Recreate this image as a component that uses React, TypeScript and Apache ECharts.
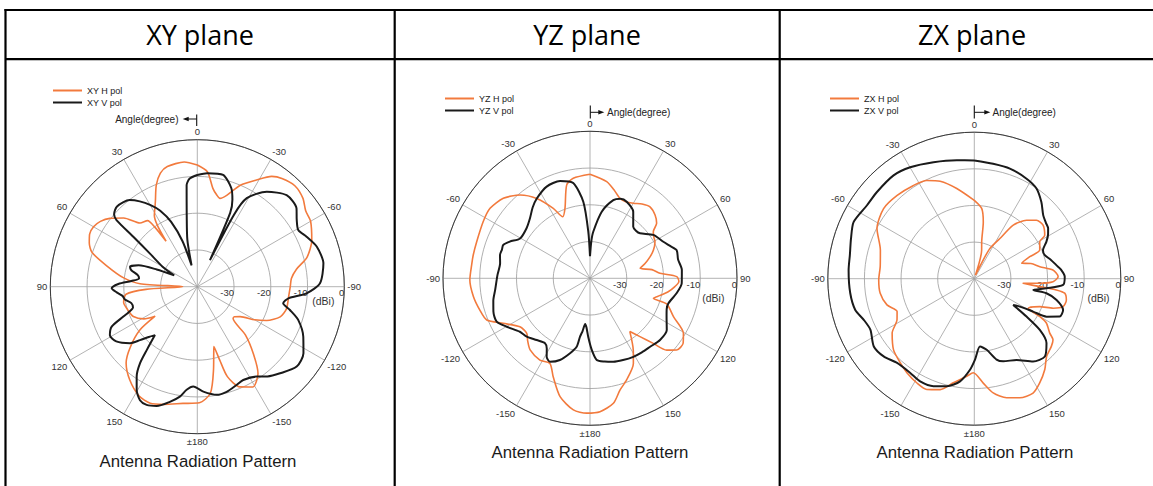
import React, { useEffect, useRef } from "react";
import * as echarts from "echarts";

// ---------------- DATA (angle in degrees as printed on each chart, gain in dBi) ----------------
// XY plane: angle counted counter-clockwise from the top (0 at top, 90 at left)
const xyHAngle = [0,6,14,18,22,26,28.5,31,33,34.5,35.5,37,42,47,52,56,60,64,68,72,77,83,87,90,93,96,102,108,115,121,125,127,132,137,144,152,158,164,173,181,187,191,194,195.5,197,198.5,203,209,215,220,225,228.5,231,235,240,244,250,256,264,270,275,280,285,292,300,305,310,316,322,326,331,337,342,345.6,348,351,355,360];
const xyHdB = [-6.9,-5.9,-6.3,-7.5,-10.2,-14,-15.8,-17.3,-20,-25,-20,-17.5,-16.7,-12.6,-9.8,-8.2,-7.4,-7.4,-8.3,-9.9,-14.7,-19.7,-24.4,-36,-26,-20.5,-19.5,-20,-20.8,-23,-26,-20.5,-15.5,-11.6,-8.7,-6.3,-5.8,-6.7,-8,-8.4,-10.8,-16.9,-21.5,-23.1,-19.1,-14.2,-10.4,-8.8,-11.2,-16.3,-21.5,-27,-27,-25.8,-22,-19,-16,-15,-15,-14.7,-14.3,-12.6,-9.1,-6.4,-4.4,-4,-2.5,-1.8,-2.6,-3.8,-6.8,-10,-13.8,-15.2,-14.5,-12.9,-8.6,-6.9];
const xyVAngle = [0,4,6,8.4,12,15,18,22,26,30,34,38,45,49,50.5,52,55,60,64,67,70,73.5,76,79,82,85,88,91,94,97,100,104,108,110.5,112,115,119,124,130,133,136,138.8,141.4,143.2,146,149.6,153.2,156.8,161.2,166.6,171,174.1,177.7,183.3,190.2,195.6,201.8,206.2,213.4,218,223.7,231.2,237.9,244.7,251.8,255.9,259.1,262.7,266.5,271.6,280.5,288.5,294.6,299.3,303.9,308.3,315.7,323.8,330.8,333,334.5,336,338,341,347,355,360];
const xyVdB = [-9.6,-10.5,-12.2,-20.3,-27,-34,-27,-21,-17,-14.3,-12,-10.1,-9.1,-10,-11.5,-17.9,-24.2,-29,-33,-28,-23,-20.9,-21.5,-23.5,-24,-22,-18.5,-16.7,-18,-19.5,-20,-21.5,-21.6,-20,-18.3,-14.3,-12.8,-13.4,-16.1,-18.7,-21,-22.5,-18,-14,-10.5,-7.4,-5.4,-5,-5.7,-7.8,-9.7,-11.8,-12.8,-11.4,-10.1,-10.3,-11.2,-11.7,-10.7,-9,-7.4,-5.3,-5.9,-8.1,-11.1,-14,-16.2,-15,-10.2,-6.6,-5.1,-5.7,-7.3,-8.5,-7.4,-5.6,-5.2,-8,-12.4,-18,-32,-18,-14.5,-11.6,-8.8,-9,-9.6];

// YZ plane: angle counted clockwise from the top (0 at top, 90 at right)
const yzHAngle = [0,9.8,15,20.6,25,30,35,40,45.8,50.5,53.6,57,60.6,66,70.2,75,78.7,82,85.9,88.9,92,95.6,100,104,107.5,108.5,114.7,120.5,124.9,129.6,133.1,135.8,139.4,143.2,148.9,153,160.2,165,169.4,175.7,181.4,187.2,194.2,200.5,205.2,211.5,219.9,225,229,235.3,242.6,248,253.9,261,269.2,277.2,281.3,287.9,298,305,312.7,320,326.3,332.3,336.1,340.3,346,350.5,360];
const yzHdB = [-11.7,-13.3,-15,-16.8,-17,-16.4,-15.3,-14.6,-15.3,-16.5,-18.6,-19.3,-19.7,-21.1,-22.6,-24.5,-26.1,-23,-20.9,-16.4,-15.8,-16.8,-18.5,-20.5,-21.9,-18,-15,-10.5,-9.1,-9.4,-11.4,-15.3,-19.1,-21.9,-17.2,-14,-10.6,-8.5,-5.4,-3.6,-3.3,-3.9,-6.8,-11.4,-14.4,-13.9,-14.6,-16,-17.2,-16.8,-13.4,-9.7,-8.8,-7.9,-7.3,-7.6,-7.6,-7.6,-7.1,-6.8,-7.9,-10.4,-13.9,-18.5,-21.7,-19.8,-13.8,-12.4,-11.7];
const yzVAngle = [0,2,4,10,16.6,21,25.6,33,40,44,48,55.6,63.5,68,72,78,84.8,93.1,99.8,107.7,112,116.6,124,131.4,138.7,145,151.1,158,164.4,170,175.3,178.6,181.7,184,186,188,189.7,191,194.9,200.2,205.6,208.9,211.5,214.7,220.8,227.3,232.7,239.8,245.1,251,257,263,272,279.5,284.5,288,291,294.6,299.7,308.3,315,321,326.3,334.7,342.9,350,355,357.9,360];
const yzVdB = [-34,-30,-27.3,-21.6,-17.8,-16.8,-16.9,-18.4,-21.7,-22,-21.7,-19.1,-17.7,-16.5,-15.2,-15.5,-14.9,-15,-16.1,-17.6,-17.5,-16.7,-14.8,-14.6,-15.2,-15.4,-15.6,-16,-16.4,-17,-17.7,-20.5,-24,-26.5,-27.5,-25.5,-23.9,-21,-18.9,-16.3,-14.8,-15.6,-17.5,-18.5,-17.8,-16.6,-16,-13.8,-12,-12.2,-13,-14,-14.8,-15.2,-14.7,-14.8,-14.7,-16,-18.1,-18,-16.9,-15.2,-13.9,-12.4,-12.3,-13.7,-19.1,-27.3,-34];

// ZX plane: angle counted clockwise from the top (0 at top, 90 at right)
const zxHAngle = [0,6,9,11.3,14.5,18,22,27,32.5,36,41.8,46.8,52.1,58.3,60.6,66.4,68.4,72,75,79.6,83.7,88.6,92.2,94,95.4,96.9,97.8,99.1,103,107.5,110.5,113.1,118.7,120,121.6,125.8,127.8,131.3,137.1,142.2,147.9,152.8,159.1,164.8,170.6,175.1,180.6,184.4,191.4,197.1,203.2,208.8,215.5,221.3,228.6,236.5,242,247,253.3,261.2,269.2,277.3,286.9,297.3,307.7,317.2,326.9,334.2,340.7,349,360];
const zxHdB = [-18.6,-20.7,-24.3,-29.7,-32,-39,-38,-31,-27,-21.9,-18.6,-16.7,-16.2,-17.4,-19.5,-20.5,-23.7,-26.4,-24,-21.8,-18.4,-17.1,-18.5,-22.1,-26.6,-22,-17.4,-15,-14.2,-14.6,-17,-20.6,-23.2,-19.3,-16.9,-14.6,-12.8,-12,-11,-8.6,-6.4,-4.9,-5.2,-6.3,-8.4,-11.4,-14.3,-13.3,-11,-8.3,-7.1,-7.5,-8.4,-9.4,-10.6,-13.1,-16.1,-17.1,-15.1,-14,-13.9,-14.1,-13.2,-10.1,-8.7,-9,-9.6,-10.2,-11.8,-14.9,-18.6];
const zxVAngle = [0,9.3,17.9,27.6,34.6,41.2,47.3,52,55.7,59,62.9,67.4,71.5,76,80.6,84,88.7,94,97.6,100.8,101.4,104.5,109.4,113.9,117.7,119.2,121.5,124,125.9,128,131.7,137.8,144.6,152.5,160.7,164.6,170.1,175.2,179.5,182.7,187.9,194.3,200.8,207.8,214.2,222.5,229.4,236,243.8,249.6,255.3,263.3,273.9,281,288,295.2,304.4,311.7,322,330.1,340.7,351.6,360];
const zxVdB = [-7.7,-8.2,-8.4,-9.2,-10.1,-12.2,-14.4,-15.2,-15.6,-16.5,-17.9,-19.7,-19.7,-18.5,-17.3,-16.2,-15.3,-15.7,-20.1,-23.6,-19.9,-16.8,-14.3,-14.5,-17.7,-21.6,-25.4,-27.2,-22.4,-17.3,-13.6,-11.3,-12.3,-15,-16.1,-17.1,-20.3,-21.4,-17.9,-15.1,-11.7,-9.7,-8.6,-8.3,-8.9,-8.8,-7.4,-6.9,-8.4,-7.8,-6.4,-5.9,-5.6,-5.4,-4.6,-3.6,-4.5,-4.4,-4.2,-4.9,-6.3,-7.3,-7.7];

const headers = ["XY plane", "YZ plane", "ZX plane"];
const seriesNames = [["XY H pol", "XY V pol"], ["YZ H pol", "YZ V pol"], ["ZX H pol", "ZX V pol"]];
const radialTicks = [-40, -30, -20, -10, 0];
const chartTitle = "Antenna Radiation Pattern";
const angleCaption = "Angle(degree)";
const unitCaption = "(dBi)";

// ---------------- STYLE / LAYOUT ----------------
const ORANGE = "#f27a3d";
const BLACK = "#1a1a1a";
const FONT = "'Liberation Sans', Arial, sans-serif";

const planes = [
  { center: [197.3, 286.7], radius: 147, clockwise: false, offset: 90, legend: [53, 85.5], dbi: [323.3, 301], title: [198, 461], header: 200,
    H: [xyHAngle, xyHdB], V: [xyVAngle, xyVdB] },
  { center: [590, 278.3], radius: 147, clockwise: true, offset: 270, legend: [445, 93.5], dbi: [713.3, 297.7], title: [590, 452.3], header: 587,
    H: [yzHAngle, yzHdB], V: [yzVAngle, yzVdB] },
  { center: [974.3, 278.7], radius: 146.5, clockwise: true, offset: 270, legend: [830, 93.5], dbi: [1098.5, 297.7], title: [975, 452.3], header: 972,
    H: [zxHAngle, zxHdB], V: [zxVAngle, zxVdB] },
];

function toPolar(angles: number[], dbs: number[], offset: number) {
  return angles.map((a, i) => [dbs[i], (a + offset) % 360]);
}

function angleLabel(offset: number) {
  return (v: number) => {
    let t = (((v - offset) % 360) + 360) % 360;
    if (t > 180) t -= 360;
    if (Math.abs(t) === 180) return "±180";
    return String(Math.round(t));
  };
}

function buildOption() {
  const polar: any[] = [];
  const angleAxis: any[] = [];
  const radiusAxis: any[] = [];
  const series: any[] = [];
  const legend: any[] = [];
  const graphic: any[] = [];

  planes.forEach((p, i) => {
    polar.push({ center: p.center, radius: p.radius });
    angleAxis.push({
      polarIndex: i, type: "value", min: 0, max: 360, interval: 30, startAngle: 0, clockwise: p.clockwise,
      axisLine: { show: true, lineStyle: { color: "#3a3a3a", width: 1 } },
      axisTick: { show: false },
      splitLine: { show: true, lineStyle: { color: "#a0a0a0", width: 0.8 } },
      axisLabel: { margin: 3, fontSize: 9.5, color: "#333", fontFamily: FONT, formatter: angleLabel(p.offset) },
      silent: true,
    });
    radiusAxis.push({
      polarIndex: i, type: "value", min: radialTicks[0], max: radialTicks[radialTicks.length - 1], interval: 10,
      axisLine: { show: false }, axisTick: { show: false },
      splitLine: { show: true, lineStyle: { color: "#9a9a9a", width: 0.8 } },
      axisLabel: {
        formatter: (v: number) => (v === radialTicks[0] ? "" : String(v)),
        align: "right", verticalAlign: "top", margin: -1, fontSize: 9.5, color: "#333", fontFamily: FONT,
      },
      silent: true,
    });
    const [hName, vName] = seriesNames[i];
    series.push({
      type: "line", name: hName, coordinateSystem: "polar", polarIndex: i,
      data: toPolar(p.H[0], p.H[1], p.offset), symbol: "none", smooth: 0.25, clip: false, silent: true,
      lineStyle: { color: ORANGE, width: 1.6 }, itemStyle: { color: ORANGE },
    });
    series.push({
      type: "line", name: vName, coordinateSystem: "polar", polarIndex: i,
      data: toPolar(p.V[0], p.V[1], p.offset), symbol: "none", smooth: 0.25, clip: false, silent: true,
      lineStyle: { color: BLACK, width: 2 }, itemStyle: { color: BLACK },
    });
    legend.push({
      data: [hName, vName], left: p.legend[0], top: p.legend[1], orient: "vertical", padding: 0,
      icon: "rect", itemWidth: 29, itemHeight: 2, itemGap: 2, selectedMode: false,
      textStyle: { fontSize: 9, color: "#222", fontFamily: FONT, lineHeight: 10 },
    });
    graphic.push({ type: "text", x: p.header, y: 34.5, silent: true,
      style: { text: headers[i], fontSize: 27, fontFamily: "'Open Sans', sans-serif", fill: "#000", align: "center", verticalAlign: "middle" } });
    graphic.push({ type: "text", x: p.title[0], y: p.title[1], silent: true,
      style: { text: chartTitle, fontSize: 16.8, fontFamily: FONT, fill: "#1a1a1a", align: "center", verticalAlign: "middle" } });
    graphic.push({ type: "text", x: p.dbi[0], y: p.dbi[1], silent: true,
      style: { text: unitCaption, fontSize: 10.5, fontFamily: FONT, fill: "#333", align: "center", verticalAlign: "middle" } });
  });

  // Angle(degree) annotations
  const ann = [
    { tx: 196.7, ty0: 114.5, ty1: 126, ay: 119, dir: -1, len: 14, textX: 178.5 },
    { tx: 590.3, ty0: 105.5, ty1: 118.5, ay: 112.3, dir: 1, len: 14, textX: 607 },
    { tx: 974.3, ty0: 105.5, ty1: 118.5, ay: 112.3, dir: 1, len: 16, textX: 992.5 },
  ];
  ann.forEach((a) => {
    const tip = a.tx + a.dir * a.len;
    graphic.push({ type: "line", silent: true, shape: { x1: a.tx, y1: a.ty0, x2: a.tx, y2: a.ty1 }, style: { stroke: "#111", lineWidth: 1.1 } });
    graphic.push({ type: "line", silent: true, shape: { x1: a.tx, y1: a.ay, x2: tip - a.dir * 5, y2: a.ay }, style: { stroke: "#111", lineWidth: 1 } });
    graphic.push({ type: "polygon", silent: true,
      shape: { points: [[tip, a.ay], [tip - a.dir * 6, a.ay - 2.3], [tip - a.dir * 6, a.ay + 2.3]] }, style: { fill: "#111" } });
    graphic.push({ type: "text", x: a.textX, y: a.ay, silent: true,
      style: { text: angleCaption, fontSize: 10, fontFamily: FONT, fill: "#222", align: a.dir < 0 ? "right" : "left", verticalAlign: "middle" } });
  });

  // Table lines
  const tl = [
    [4.5, 10, 1153, 10], [5.5, 9, 5.5, 486], [5.5, 59.2, 1153, 59.2], [394.7, 9, 394.7, 486], [779.7, 9, 779.7, 486],
  ];
  tl.forEach(([x1, y1, x2, y2]) =>
    graphic.push({ type: "line", silent: true, shape: { x1, y1, x2, y2 }, style: { stroke: "#000", lineWidth: 2.2 } })
  );

  return {
    animation: false,
    backgroundColor: "#fff",
    polar, angleAxis, radiusAxis, series, legend, graphic,
  };
}

export default function App() {
  const ref = useRef<HTMLDivElement>(null);
  useEffect(() => {
    const chart = echarts.init(ref.current as HTMLDivElement, null, { renderer: "svg" });
    chart.setOption(buildOption() as any);
    return () => chart.dispose();
  }, []);
  return (
    <div
      ref={ref}
      style={{ position: "fixed", left: 0, top: 0, width: 1153, height: 486, background: "#fff" }}
    />
  );
}
